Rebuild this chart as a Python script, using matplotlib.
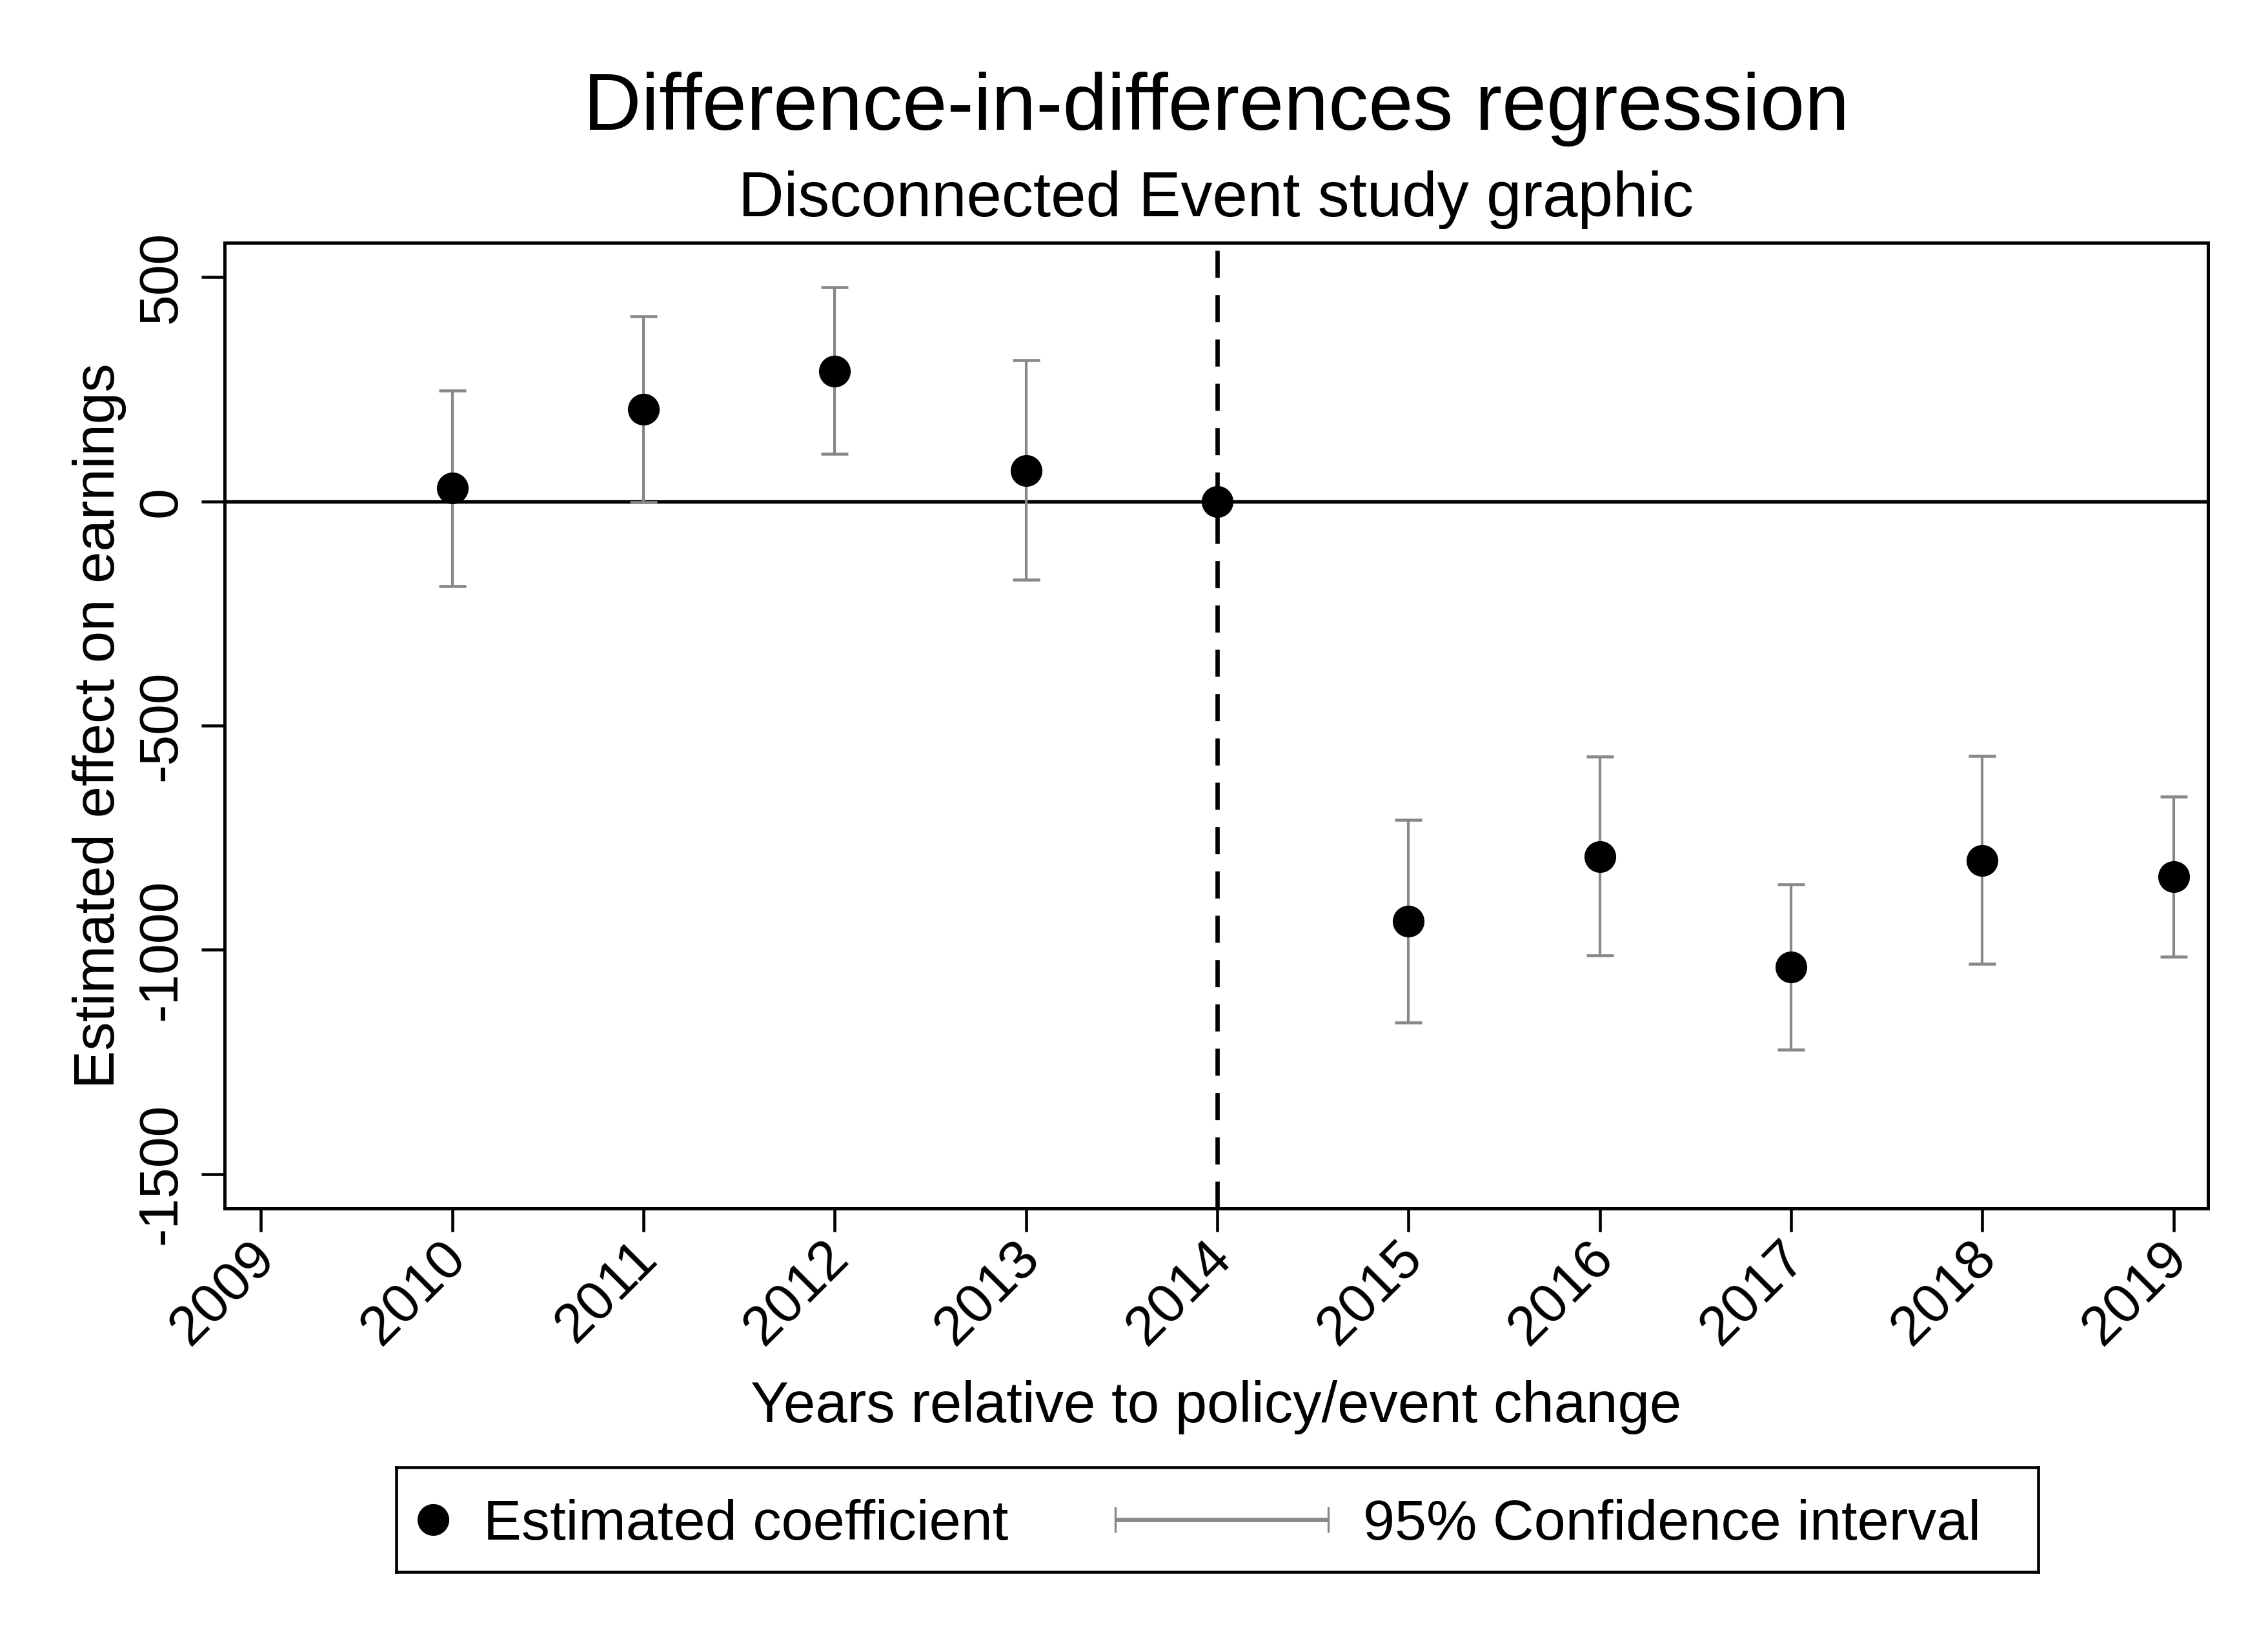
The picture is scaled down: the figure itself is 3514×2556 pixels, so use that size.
# -*- coding: utf-8 -*-
"""
Event study plot (difference-in-differences)
"""

# Import libraries
import numpy as np
import matplotlib
matplotlib.use("Agg")
import matplotlib.pyplot as plt
from matplotlib.transforms import ScaledTranslation

#-----------------------------------------------------------------------------
# Data
#-----------------------------------------------------------------------------

years = [2010, 2011, 2012, 2013, 2014, 2015, 2016, 2017, 2018, 2019]
coef  = [30, 206, 291, 69, 0, -936, -792, -1039, -801, -837]
ci_lo = [-189, -2, 106, -175, np.nan, -1162, -1012, -1223, -1031, -1016]
ci_hi = [247, 413, 477, 315, np.nan, -710, -569, -854, -568, -659]

event_year = 2014
xtick_vals = [2009, 2010, 2011, 2012, 2013, 2014, 2015, 2016, 2017, 2018, 2019]
ytick_vals = [-1500, -1000, -500, 0, 500]
ytick_labels = ['-1500', '-1000', '-500', '0', '500']

title = 'Difference-in-differences regression'
subtitle = 'Disconnected Event study graphic'
xlabel = 'Years relative to policy/event change'
ylabel = 'Estimated effect on earnings'
leg_labels = ['Estimated coefficient', '95% Confidence interval']

#-----------------------------------------------------------------------------
# Style
#-----------------------------------------------------------------------------

plt.rcParams['font.family'] = ['Liberation Sans', 'DejaVu Sans']
plt.rcParams['axes.unicode_minus'] = False

gray = '#888888'
W, H, DPI = 3514, 2556, 300

x = np.array(years, dtype=float)
y = np.array(coef, dtype=float)
lo = np.array(ci_lo, dtype=float)
hi = np.array(ci_hi, dtype=float)
has_ci = ~np.isnan(lo)

#-----------------------------------------------------------------------------
# Plot
#-----------------------------------------------------------------------------

fig = plt.figure(figsize=(W / DPI, H / DPI), dpi=DPI)
ax = fig.add_axes([348 / W, 1 - 1872 / H, (3421 - 348) / W, (1872 - 376) / H])

ax.axhline(0, color='black', lw=1.3, zorder=1)
ax.axvline(event_year, color='black', lw=1.6, dashes=(6.3, 4.0), zorder=1)

ax.errorbar(x[has_ci], y[has_ci],
            yerr=[y[has_ci] - lo[has_ci], hi[has_ci] - y[has_ci]],
            fmt='none', ecolor=gray, elinewidth=1.0, capsize=5, capthick=1.1,
            zorder=2)
ax.plot(x, y, 'o', color='black', ms=11.8, mew=0, zorder=4)

ax.set_xlim(2008.81, 2019.18)
ax.set_ylim(-1577, 577)

# Axes frame
for sp in ax.spines.values():
    sp.set_linewidth(1.2)
    sp.set_color('black')

ax.set_xticks(xtick_vals)
ax.set_xticklabels([str(v) for v in xtick_vals])
ax.set_yticks(ytick_vals)
ax.set_yticklabels(ytick_labels)
ax.tick_params(axis='both', direction='out', length=8.6, width=1.1,
               labelsize=20.6, colors='black')
ax.tick_params(axis='x', pad=6.8)
ax.tick_params(axis='y', pad=9.6)

for lab in ax.get_xticklabels():
    lab.set_rotation(45)
    lab.set_rotation_mode('anchor')
    lab.set_ha('right')
    lab.set_va('center')
    lab.set_transform(lab.get_transform() +
                      ScaledTranslation(9 / DPI, 0, fig.dpi_scale_trans))
for lab in ax.get_yticklabels():
    lab.set_rotation(90)
    lab.set_rotation_mode('anchor')
    lab.set_ha('center')
    lab.set_va('baseline')

ax.set_xlabel(xlabel, fontsize=21.3, va='baseline')
ax.xaxis.set_label_coords(0.5, (1872 - 2203) / (1872 - 376))
ax.set_ylabel(ylabel, fontsize=21.3, va='baseline', ha='center')
ax.yaxis.set_label_coords((177 - 348) / (3421 - 348), 0.5)

# Titles
xc = (348 + 3421) / 2 / W
fig.text(xc, 1 - 201 / H, title, fontsize=29.8, ha='center', va='baseline')
fig.text(xc, 1 - 335 / H, subtitle, fontsize=23.5, ha='center', va='baseline')

#-----------------------------------------------------------------------------
# Legend (drawn as its own boxed axes)
#-----------------------------------------------------------------------------

lx0, lx1, ly0, ly1 = 614, 3158, 2273, 2435
legax = fig.add_axes([lx0 / W, 1 - ly1 / H, (lx1 - lx0) / W, (ly1 - ly0) / H])
legax.set_xlim(lx0, lx1)
legax.set_ylim(ly1, ly0)
legax.set_xticks([])
legax.set_yticks([])
for sp in legax.spines.values():
    sp.set_linewidth(1.1)
    sp.set_color('black')

legax.plot([671], [2354], 'o', color='black', ms=11.8, mew=0)
legax.text(749, 2385, leg_labels[0], fontsize=21.2, va='baseline', ha='left')
legax.errorbar([(1728 + 2058) / 2], [2354], xerr=[[(2058 - 1728) / 2]],
               fmt='none', ecolor=gray, elinewidth=1.6, capsize=4.7,
               capthick=0.8)
legax.text(2112, 2385, leg_labels[1], fontsize=21.2, va='baseline', ha='left')

plt.savefig('out.png', dpi=DPI)
